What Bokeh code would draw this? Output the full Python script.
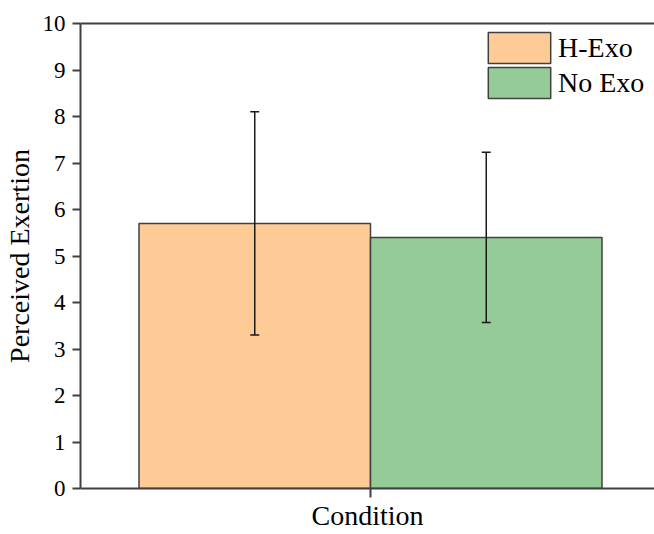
from bokeh.plotting import figure
from bokeh.models import (Range1d, ColumnDataSource, Whisker, LinearAxis, FixedTicker,
                          Legend, LegendItem, TeeHead)
from bokeh.embed import file_html
from bokeh.resources import INLINE

# ---- data ----
conditions = ["H-Exo", "No Exo"]
means = [5.7, 5.4]
sds = [2.4, 1.83]
colors = ["#FECB96", "#94CB97"]
y_ticks = [0, 1, 2, 3, 4, 5, 6, 7, 8, 9, 10]
x_title = "Condition"
y_title = "Perceived Exertion"

FONT = "Liberation Serif"

# bar positions: bars adjacent around the category centre (0)
x_pos = [-0.5, 0.5]
lower = [m - s for m, s in zip(means, sds)]
upper = [m + s for m, s in zip(means, sds)]

p = figure(width=654, height=534, output_backend="svg", toolbar_location=None,
           x_range=Range1d(-1.2527, 1.2268), y_range=Range1d(0, 10),
           min_border_left=80, min_border_right=0, min_border_top=23, min_border_bottom=46,
           x_axis_location=None, y_axis_location=None)
p.outline_line_color = None
p.grid.visible = False
p.background_fill_color = "white"

renderers = []
for i in range(len(conditions)):
    src = ColumnDataSource(dict(x=[x_pos[i]], top=[means[i]]))
    r = p.vbar(x="x", top="top", bottom=0, width=1.0, source=src,
               fill_color=colors[i], line_color="#404040", line_width=1.5)
    renderers.append(r)

err_src = ColumnDataSource(dict(x=x_pos, lower=lower, upper=upper))
w = Whisker(base="x", lower="lower", upper="upper", source=err_src,
            line_color="#1a1a1a", line_width=1.5, level="overlay",
            upper_head=TeeHead(size=9, line_color="#1a1a1a", line_width=1.5),
            lower_head=TeeHead(size=9, line_color="#1a1a1a", line_width=1.5))
p.add_layout(w)

# left axis
ya = LinearAxis(ticker=FixedTicker(ticks=y_ticks), axis_label=y_title)
ya.axis_label_text_font = FONT
ya.axis_label_text_font_size = "28px"
ya.axis_label_text_font_style = "normal"
ya.axis_label_text_color = "black"
ya.axis_label_standoff = 5
ya.major_label_text_font = FONT
ya.major_label_text_font_size = "23px"
ya.major_label_text_color = "black"
ya.major_label_standoff = 7
ya.major_tick_out = 8
ya.major_tick_in = 0
ya.minor_tick_line_color = None
ya.axis_line_color = "#404040"
ya.axis_line_width = 2
ya.major_tick_line_color = "#404040"
ya.major_tick_line_width = 2
p.add_layout(ya, "left")

# bottom axis (single centre tick, no tick label)
xa = LinearAxis(ticker=FixedTicker(ticks=[0]), axis_label=x_title)
xa.major_label_overrides = {0: ""}
xa.major_label_text_font_size = "0px"
xa.major_label_standoff = 0
xa.axis_label_text_font = FONT
xa.axis_label_text_font_size = "28px"
xa.axis_label_text_font_style = "normal"
xa.axis_label_text_color = "black"
xa.axis_label_standoff = 2
xa.major_tick_out = 9
xa.major_tick_in = 0
xa.minor_tick_line_color = None
xa.axis_line_color = "#404040"
xa.axis_line_width = 2
xa.major_tick_line_color = "#404040"
xa.major_tick_line_width = 2
p.add_layout(xa, "below")

# top axis (line only)
ta = LinearAxis(ticker=FixedTicker(ticks=[]))
ta.major_label_text_font_size = "0px"
ta.major_tick_line_color = None
ta.minor_tick_line_color = None
ta.axis_line_color = "#404040"
ta.axis_line_width = 2
p.add_layout(ta, "above")

legend_locs = [(400, 421), (400, 386)]
for i in range(2):
    lg = Legend(items=[LegendItem(label=conditions[i], renderers=[renderers[i]])],
                location=legend_locs[i], orientation="vertical")
    lg.label_text_font = FONT
    lg.label_text_font_size = "28px"
    lg.label_text_color = "black"
    lg.glyph_width = 78
    lg.glyph_height = 39
    lg.label_standoff = 0
    lg.padding = 0
    lg.margin = 0
    lg.border_line_color = None
    lg.background_fill_alpha = 0
    p.add_layout(lg, "center")

open("out.html", "w").write(file_html(p, INLINE))
